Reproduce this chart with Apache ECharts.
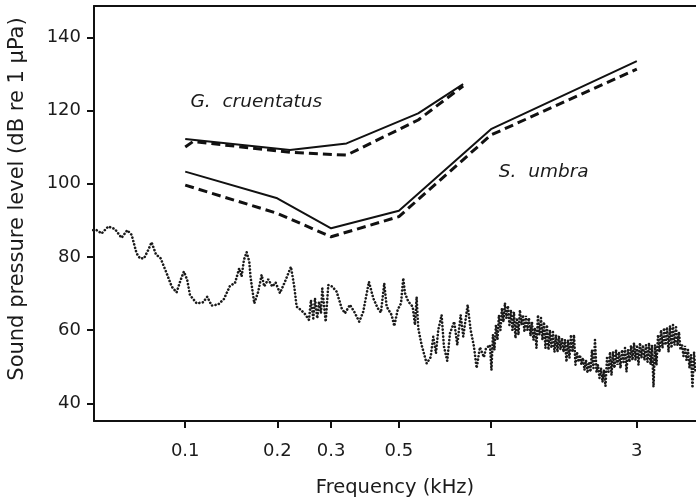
<!DOCTYPE html>
<html>
<head>
<meta charset="utf-8">
<script src="https://cdn.jsdelivr.net/npm/echarts@6/dist/echarts.min.js"></script>
<style>
  html, body { margin: 0; padding: 0; background: #fff; }
  #chart { width: 696px; height: 501px; }
</style>
</head>
<body>
<div id="chart"></div>
<script>
// Axis extents and tick labels (frequency in kHz, level in dB re 1 µPa)
const freqRange = [0.0503, 4.685];
const levelRange = [35.16, 148.55];
const freqTicks = [0.1, 0.2, 0.3, 0.5, 1, 3];
const levelTicks = [40, 60, 80, 100, 120, 140];

// Hearing thresholds, Gobius cruentatus
const gcFreqSolid = [0.1, 0.22, 0.337, 0.578, 0.811];
const gcLevelSolid = [112.2, 109.2, 111.0, 119.2, 127.2];
const gcFreqDashed = [0.1, 0.106, 0.22, 0.337, 0.578, 0.811];
const gcLevelDashed = [110.0, 111.5, 108.6, 107.8, 117.4, 126.7];

// Hearing thresholds, Sciaena umbra
const suFreq = [0.1, 0.2, 0.3, 0.5, 1, 3];
const suLevelSolid = [103.3, 96.0, 87.8, 92.6, 114.9, 133.5];
const suLevelDashed = [99.6, 91.9, 85.5, 91.0, 113.3, 131.3];

// Ambient noise spectrum, below 1 kHz
const noiseFreq = [
  0.0500, 0.0513, 0.0533, 0.0560, 0.0589, 0.0619, 0.0646, 0.0668, 0.0693, 0.0711,
  0.0733, 0.0757, 0.0776, 0.0802, 0.0831, 0.0865, 0.0903, 0.0937, 0.0966, 0.0990,
  0.1015, 0.1036, 0.1090, 0.1145, 0.1180, 0.1220, 0.1282, 0.1339, 0.1401, 0.1454,
  0.1502, 0.1529, 0.1556, 0.1588, 0.1620, 0.1635, 0.1682, 0.1733, 0.1778, 0.1813,
  0.1868, 0.1926, 0.1976, 0.2041, 0.2119, 0.2217, 0.2273, 0.2314, 0.2390, 0.2463,
  0.2539, 0.2578, 0.2623, 0.2657, 0.2703, 0.2738, 0.2780, 0.2807, 0.2880, 0.2937,
  0.3026, 0.3128, 0.3248, 0.3330, 0.3458, 0.3571, 0.3708, 0.3821, 0.3989, 0.4121,
  0.4260, 0.4367, 0.4477, 0.4559, 0.4734, 0.4828, 0.4953, 0.5078, 0.5166, 0.5233,
  0.5365, 0.5545, 0.5642, 0.5714, 0.5783, 0.5933, 0.6161, 0.6350, 0.6475, 0.6608,
  0.6723, 0.6897, 0.7019, 0.7194, 0.7343, 0.7584, 0.7759, 0.7960, 0.8117, 0.8390,
  0.8582, 0.8798, 0.8978, 0.9204, 0.9486, 0.9630
];
const noiseLevel = [
  87.3, 87.3, 86.4, 88.3, 87.6, 85.2, 87.3, 86.0, 81.0, 79.6,
  79.6, 81.9, 84.0, 80.7, 79.6, 76.0, 71.9, 70.3, 73.7, 76.0,
  73.7, 69.6, 67.3, 67.6, 69.1, 66.7, 67.0, 68.5, 72.1, 72.8,
  76.9, 74.6, 79.2, 81.3, 78.7, 74.6, 67.3, 70.5, 75.1, 71.9,
  73.9, 71.9, 73.0, 70.1, 73.2, 77.3, 71.9, 66.4, 65.5, 64.4,
  62.8, 68.2, 63.2, 68.7, 63.2, 67.8, 64.6, 71.4, 62.3, 72.3,
  71.9, 70.5, 66.0, 64.6, 66.9, 65.0, 62.3, 65.0, 73.2, 68.7,
  66.0, 64.8, 72.8, 66.4, 64.1, 61.1, 65.5, 67.3, 74.2, 70.1,
  67.8, 66.4, 61.4, 69.1, 60.5, 55.9, 50.9, 52.6, 58.2, 53.7,
  60.0, 64.1, 55.5, 51.6, 59.1, 62.3, 55.9, 64.1, 58.2, 66.9,
  60.0, 55.5, 49.6, 55.3, 52.6, 55.0
];

// Ambient noise spectrum above 1 kHz: fast fluctuation, peaks and troughs
const bandFreq = [
  0.9925, 1.0038, 1.0152, 1.0267, 1.0384, 1.0502, 1.0621, 1.0742, 1.0864, 1.0987,
  1.1112, 1.1238, 1.1366, 1.1495, 1.1626, 1.1758, 1.1891, 1.2027, 1.2163, 1.2302,
  1.2441, 1.2583, 1.2726, 1.2871, 1.3017, 1.3165, 1.3315, 1.3466, 1.3619, 1.3774,
  1.3930, 1.4089, 1.4249, 1.4411, 1.4575, 1.4740, 1.4908, 1.5077, 1.5249, 1.5422,
  1.5597, 1.5775, 1.5954, 1.6135, 1.6319, 1.6504, 1.6692, 1.6882, 1.7074, 1.7268,
  1.7464, 1.7662, 1.7863, 1.8066, 1.8271, 1.8479, 1.8689, 1.8901, 1.9116, 1.9333,
  1.9553, 1.9775, 2.0000, 2.0227, 2.0457, 2.0690, 2.0925, 2.1163, 2.1403, 2.1647,
  2.1893, 2.2142, 2.2393, 2.2648, 2.2905, 2.3166, 2.3429, 2.3695, 2.3964, 2.4237,
  2.4512, 2.4791, 2.5072, 2.5357, 2.5646, 2.5937, 2.6232, 2.6530, 2.6832, 2.7137,
  2.7445, 2.7757, 2.8073, 2.8392, 2.8714, 2.9041, 2.9371, 2.9705, 3.0042, 3.0384,
  3.0729, 3.1078, 3.1432, 3.1789, 3.2150, 3.2516, 3.2885, 3.3259, 3.3637, 3.4019,
  3.4406, 3.4797, 3.5192, 3.5592, 3.5997, 3.6406, 3.6819, 3.7238, 3.7661, 3.8089,
  3.8522, 3.8960, 3.9402, 3.9850, 4.0303, 4.0761, 4.1224, 4.1693, 4.2167, 4.2646,
  4.3130, 4.3620, 4.4116, 4.4617, 4.5124, 4.5637, 4.6156, 4.6680
];
const bandLevel = [
  55.9, 49.1, 58.7, 54.6, 61.4, 57.3, 64.1, 60.0, 66.0, 62.2,
  67.4, 63.3, 66.6, 61.4, 65.5, 60.0, 64.9, 57.8, 63.3, 58.7,
  65.5, 61.4, 64.1, 59.5, 63.9, 60.0, 63.3, 58.4, 62.2, 57.3,
  60.6, 55.1, 64.1, 58.7, 63.3, 57.3, 62.2, 55.1, 61.4, 54.6,
  60.0, 55.1, 59.5, 54.0, 58.7, 54.0, 58.4, 54.6, 57.8, 54.0,
  57.3, 51.3, 57.3, 52.4, 58.7, 54.0, 58.7, 50.5, 54.0, 51.3,
  53.2, 50.5, 52.4, 49.1, 51.8, 48.3, 51.3, 48.6, 54.6, 49.6,
  57.3, 48.6, 50.5, 46.9, 49.6, 45.8, 49.1, 44.7, 52.4, 48.6,
  54.0, 47.7, 54.0, 49.6, 54.6, 50.5, 54.0, 49.6, 54.6, 51.3,
  55.1, 48.6, 54.6, 51.3, 55.7, 51.8, 56.5, 51.8, 55.9, 50.5,
  56.5, 52.4, 55.9, 51.8, 55.9, 51.3, 56.5, 50.5, 55.9, 44.5,
  55.9, 50.5, 58.7, 54.0, 60.0, 55.1, 60.6, 55.9, 60.8, 54.0,
  61.1, 55.1, 61.4, 55.9, 60.8, 55.7, 59.5, 54.6, 55.9, 52.9,
  55.7, 51.8, 54.6, 49.6, 53.2, 44.2, 54.0, 48.6
];

// Species annotations: [text, frequency, level]
const speciesLabels = [
  ['G.  cruentatus', 0.1036, 122.4],
  ['S.  umbra', 1.057, 103.1]
];

const lg = Math.log10;
const pairs = (fs, vs) => fs.map((f, i) => [lg(f), vs[i]]);
const fmtFreq = v => String(+Math.pow(10, v).toPrecision(3));

const FONT = '"DejaVu Sans", sans-serif';
const INK = '#1b1b1b';

const chart = echarts.init(document.getElementById('chart'), null, { renderer: 'canvas' });

const baseXAxis = {
  type: 'value',
  min: lg(freqRange[0]),
  max: lg(freqRange[1]),
  splitLine: { show: false }
};

chart.setOption({
  animation: false,
  backgroundColor: '#fff',
  grid: { left: 94, right: 0, top: 6, bottom: 80, outerBoundsMode: 'none' },
  xAxis: [
    Object.assign({}, baseXAxis, {
      position: 'bottom',
      name: 'Frequency (kHz)',
      nameLocation: 'middle',
      nameGap: 57,
      nameTextStyle: { fontFamily: FONT, fontSize: 19.5, color: INK },
      axisLine: { show: true, onZero: false, lineStyle: { color: '#111', width: 2 } },
      axisTick: {
        show: true, inside: false, length: 7,
        customValues: freqTicks.map(lg),
        lineStyle: { color: '#111', width: 2 }
      },
      axisLabel: {
        show: true, margin: 21,
        customValues: freqTicks.map(lg),
        formatter: fmtFreq,
        fontFamily: FONT, fontSize: 18, color: INK
      }
    }),
    Object.assign({}, baseXAxis, {
      position: 'top',
      axisLine: { show: true, onZero: false, lineStyle: { color: '#111', width: 2 } },
      axisTick: { show: false },
      axisLabel: { show: false }
    })
  ],
  yAxis: {
    type: 'value',
    min: levelRange[0],
    max: levelRange[1],
    splitLine: { show: false },
    axisLine: { show: true, onZero: false, lineStyle: { color: '#111', width: 2 } },
    axisTick: {
      show: true, inside: false, length: 7,
      customValues: levelTicks,
      lineStyle: { color: '#111', width: 2 }
    },
    axisLabel: {
      show: true, margin: 13,
      customValues: levelTicks,
      fontFamily: FONT, fontSize: 18, color: INK
    }
  },
  graphic: [{
    type: 'text',
    x: 17.5,
    y: 199,
    rotation: Math.PI / 2,
    style: {
      text: 'Sound pressure level (dB re 1 μPa)',
      fontFamily: FONT, fontSize: 21, fill: INK,
      align: 'center', verticalAlign: 'middle'
    }
  }],
  series: [
    {
      name: 'noise',
      type: 'line',
      data: pairs(noiseFreq.concat(bandFreq), noiseLevel.concat(bandLevel)),
      showSymbol: false,
      symbol: 'none',
      lineStyle: { color: '#1a1a1a', width: 2.6, type: [0.1, 3.4], cap: 'round' },
      z: 2
    },
    {
      name: 'gc-solid',
      type: 'line',
      data: pairs(gcFreqSolid, gcLevelSolid),
      symbol: 'none',
      lineStyle: { color: '#111', width: 2 },
      markPoint: {
        symbol: 'circle', symbolSize: 1,
        itemStyle: { color: 'rgba(0,0,0,0)' },
        label: {
          show: true, position: 'right', distance: 0,
          formatter: p => p.name,
          fontFamily: FONT, fontStyle: 'italic', fontSize: 18.5, color: INK
        },
        data: speciesLabels.map(s => ({ name: s[0], coord: [lg(s[1]), s[2]] }))
      },
      z: 3
    },
    {
      name: 'gc-dashed',
      type: 'line',
      data: pairs(gcFreqDashed, gcLevelDashed),
      symbol: 'none',
      lineStyle: { color: '#111', width: 3, type: [9, 5] },
      z: 3
    },
    {
      name: 'su-solid',
      type: 'line',
      data: pairs(suFreq, suLevelSolid),
      symbol: 'none',
      lineStyle: { color: '#111', width: 2 },
      z: 3
    },
    {
      name: 'su-dashed',
      type: 'line',
      data: pairs(suFreq, suLevelDashed),
      symbol: 'none',
      lineStyle: { color: '#111', width: 3, type: [9, 5] },
      z: 3
    }
  ]
});
</script>
</body>
</html>
